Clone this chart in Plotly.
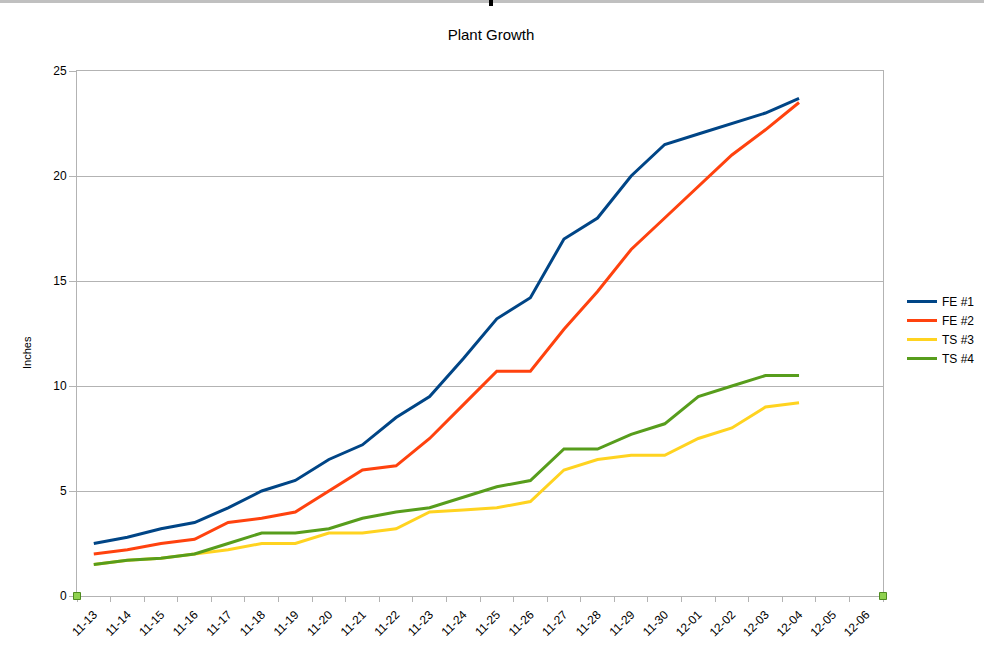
import plotly.graph_objects as go

dates = ["11-13", "11-14", "11-15", "11-16", "11-17", "11-18", "11-19", "11-20",
         "11-21", "11-22", "11-23", "11-24", "11-25", "11-26", "11-27", "11-28",
         "11-29", "11-30", "12-01", "12-02", "12-03", "12-04", "12-05", "12-06"]

fe1 = [2.5, 2.8, 3.2, 3.5, 4.2, 5.0, 5.5, 6.5, 7.2, 8.5, 9.5, 11.3, 13.2, 14.2,
       17.0, 18.0, 20.0, 21.5, 22.0, 22.5, 23.0, 23.7]
fe2 = [2.0, 2.2, 2.5, 2.7, 3.5, 3.7, 4.0, 5.0, 6.0, 6.2, 7.5, 9.1, 10.7, 10.7,
       12.7, 14.5, 16.5, 18.0, 19.5, 21.0, 22.2, 23.5]
ts3 = [1.5, 1.7, 1.8, 2.0, 2.2, 2.5, 2.5, 3.0, 3.0, 3.2, 4.0, 4.1, 4.2, 4.5,
       6.0, 6.5, 6.7, 6.7, 7.5, 8.0, 9.0, 9.2]
ts4 = [1.5, 1.7, 1.8, 2.0, 2.5, 3.0, 3.0, 3.2, 3.7, 4.0, 4.2, 4.7, 5.2, 5.5,
       7.0, 7.0, 7.7, 8.2, 9.5, 10.0, 10.5, 10.5]

series = [("FE #1", fe1, "#004586"), ("FE #2", fe2, "#ff420e"),
          ("TS #3", ts3, "#ffd320"), ("TS #4", ts4, "#579d1c")]

fig = go.Figure()
for name, vals, col in series:
    fig.add_trace(go.Scatter(x=dates[:len(vals)], y=vals, name=name, mode="lines",
                             line=dict(color=col, width=3)))

W, H = 984, 650
L, R, T, B = 77, 101, 71, 54
pw, ph = W - L - R, H - T - B

def px_x(p):
    return (p - L) / pw

def px_y(p):
    return (H - B - p) / ph

shapes = [
    dict(type="rect", xref="paper", yref="paper", x0=px_x(0), x1=px_x(984),
         y0=px_y(3), y1=px_y(0), fillcolor="#c0c0c0", line=dict(width=0), layer="above"),
    dict(type="rect", xref="paper", yref="paper", x0=px_x(489), x1=px_x(493),
         y0=px_y(6), y1=px_y(0), fillcolor="#000000", line=dict(width=0), layer="above"),
]
for hx in (77, 883):
    shapes.append(dict(type="rect", xref="paper", yref="paper",
                       x0=px_x(hx - 3.5), x1=px_x(hx + 3.5), y0=px_y(596 + 3.5), y1=px_y(596 - 3.5),
                       fillcolor="#8fd14f", line=dict(color="#4e8a1f", width=1), layer="above"))

fig.update_layout(
    width=W, height=H,
    margin=dict(l=L, r=R, t=T, b=B, autoexpand=False),
    paper_bgcolor="white", plot_bgcolor="white",
    font=dict(family="Liberation Sans, Arial, sans-serif", color="#000000"),
    title=dict(text="Plant Growth", x=491 / W, xanchor="center", y=1 - 35 / H, yanchor="middle",
               font=dict(size=15, color="#000000")),
    showlegend=True,
    legend=dict(x=px_x(902), y=px_y(287), xanchor="left", yanchor="top",
                font=dict(size=12), bgcolor="rgba(0,0,0,0)", tracegroupgap=0,
                itemwidth=30),
    xaxis=dict(type="category", categoryorder="array", categoryarray=dates,
               range=[-0.5, len(dates) - 0.5], tickson="boundaries",
               tickangle=-45, ticks="outside", ticklen=5, tickcolor="#b3b3b3",
               ticklabelstandoff=6,
               showgrid=False, showline=True, linecolor="#b3b3b3", linewidth=1,
               mirror=True, tickfont=dict(size=12), zeroline=False),
    yaxis=dict(range=[0, 25], dtick=5, ticks="outside", ticklen=7, tickcolor="#b3b3b3",
               showgrid=True, gridcolor="#b3b3b3", gridwidth=1,
               showline=True, linecolor="#b3b3b3", linewidth=1, mirror=True,
               tickfont=dict(size=12), zeroline=False),
    annotations=[dict(text="Inches", xref="paper", yref="paper", x=px_x(27), y=px_y(353),
                      showarrow=False, textangle=-90, font=dict(size=11),
                      xanchor="center", yanchor="middle")],
    shapes=shapes,
)

fig.write_html("out.html")
